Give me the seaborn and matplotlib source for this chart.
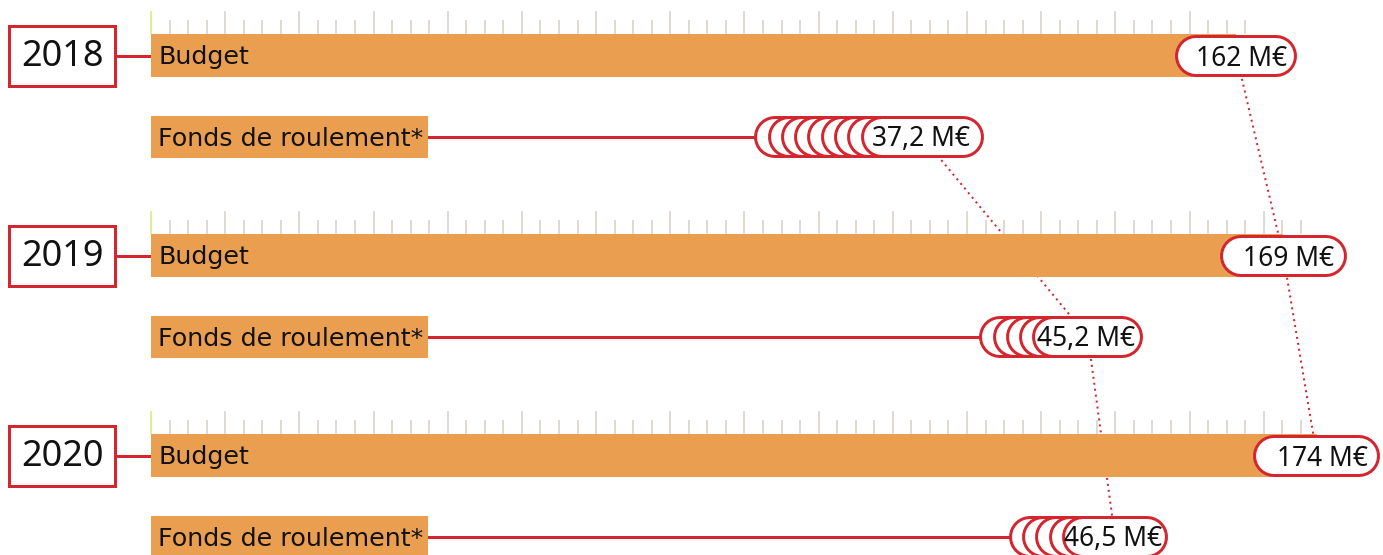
import numpy as np
import pandas as pd
import matplotlib
matplotlib.use("Agg")
import matplotlib.pyplot as plt
import matplotlib.transforms as mtransforms
from matplotlib.patches import Rectangle
import seaborn as sns

# ---------------- data ----------------
years = ["2018", "2019", "2020"]
budget = [162, 169, 174]                 # M€
fonds = [37.2, 45.2, 46.5]               # M€
budget_labels = ["162 M€", "169 M€", "174 M€"]
fonds_labels = ["37,2 M€", "45,2 M€", "46,5 M€"]
bar_label = "Budget"
fonds_title = "Fonds de roulement*"

# ---------------- style / layout ----------------
W, H, DPI = 1383, 555, 100
X0 = 151            # pixel column of value 0
KB = 6.70           # px per M€ on the budget scale
KF = 20.73          # px per M€ on the fonds scale
ROW = 200           # px between year groups
ORANGE = "#EA9E50"
RED = "#D3262F"
TICK = "#D8D1C9"
TICK0 = "#DAE57C"
INK = "#111111"
trail = [8, 4, 4]              # ghost pills behind the fonds pill
n_ticks = [60, 63, 63]
tick_px = 18.545
fonds_pill_w = [123, 111, 106]
budget_pill_w = [122, 127, 127]
PILL_H = 42
PT = 72 / DPI                  # px -> pt
LABEL_FONT = ["DejaVu Sans"]
NUM_FONT = ["Noto Sans", "DejaVu Sans"]
LABEL_SIZE = 18.3

sns.set_theme(style="white")
plt.rcParams["font.family"] = ["Noto Sans", "DejaVu Sans"]

fig = plt.figure(figsize=(W / DPI, H / DPI), dpi=DPI)
ax = fig.add_axes([0, 0, 1, 1])

bar_y = [ROW * i + 55.5 for i in range(len(years))]
fonds_y = [ROW * i + 137 for i in range(len(years))]

df = pd.DataFrame({"year": years, "budget": budget, "y": bar_y})
sns.barplot(data=df, x="budget", y="y", orient="h", native_scale=True,
            width=43 / ROW, color=ORANGE, saturation=1, linewidth=0,
            errorbar=None, ax=ax, zorder=2)

ax.set_xlim(-X0 / KB, (W - X0) / KB)
ax.set_ylim(H, 0)
ax.axis("off")

t_b = ax.transData
t_f = mtransforms.Affine2D().scale(KF / KB, 1) + ax.transData
t_px = mtransforms.Affine2D().translate(-X0, 0).scale(1 / KB, 1) + ax.transData


def pill(cx, y, w_px, k, transform, z):
    h = (w_px - PILL_H) / 2 / k
    ax.plot([cx - h, cx + h], [y, y], color=RED, lw=PILL_H * PT,
            solid_capstyle="round", transform=transform, zorder=z)
    ax.plot([cx - h, cx + h], [y, y], color="white", lw=(PILL_H - 6) * PT,
            solid_capstyle="round", transform=transform, zorder=z + 0.05)


# dotted connectors between years
ax.plot(budget, bar_y, transform=t_b, color=RED, lw=2 * PT,
        ls=(0, (1, 2)), zorder=1)
ax.plot(fonds, fonds_y, transform=t_f, color=RED, lw=2 * PT,
        ls=(0, (1, 2)), zorder=1)

renderer = fig.canvas.get_renderer()

for i, yr in enumerate(years):
    base = ROW * i
    # ticks
    xs = X0 + np.arange(n_ticks[i]) * tick_px
    major = np.arange(n_ticks[i]) % 4 == 0
    ax.vlines(xs[~major], base + 20, base + 33.5, color=TICK, lw=1.6 * PT,
              transform=t_px, zorder=2)
    ax.vlines(xs[major][1:], base + 11, base + 33.5, color=TICK, lw=1.6 * PT,
              transform=t_px, zorder=2)
    ax.vlines(xs[:1], base + 11, base + 33.5, color=TICK0, lw=1.6 * PT,
              transform=t_px, zorder=2)

    # year box + connector
    ax.add_patch(Rectangle((9.5, base + 25.5), 106, 60, transform=t_px,
                           facecolor="white", edgecolor=RED, lw=3 * PT,
                           zorder=3))
    ax.plot([117, X0], [bar_y[i], bar_y[i]], transform=t_px, color=RED,
            lw=3 * PT, zorder=1.5)
    ax.text(62.5, base + 66, yr, transform=t_px, fontsize=26, ha="center",
            va="baseline", color=INK, family=NUM_FONT, zorder=10)

    # budget label
    ax.text(159, base + 64, bar_label, transform=t_px, fontsize=LABEL_SIZE,
            ha="left", va="baseline", color=INK, family=LABEL_FONT, zorder=10)

    # fonds label box
    txt = ax.text(158, base + 146, fonds_title, transform=t_px,
                  fontsize=LABEL_SIZE, ha="left", va="baseline", color=INK,
                  family=LABEL_FONT, zorder=10)
    bb = txt.get_window_extent(renderer)
    ax.add_patch(Rectangle((X0, base + 116), bb.x1 + 5 - X0, 42,
                           transform=t_px, facecolor=ORANGE, lw=0, zorder=2))

    # fonds red line
    ax.plot([20 / KF, fonds[i]], [fonds_y[i], fonds_y[i]], transform=t_f,
            color=RED, lw=3 * PT, zorder=1.5)

    # ghost + front fonds pills
    z = 3.0
    for g in range(trail[i], 0, -1):
        pill(fonds[i] - g * 13.3 / KF, fonds_y[i], fonds_pill_w[i], KF, t_f, z)
        z += 0.1
    pill(fonds[i], fonds_y[i], fonds_pill_w[i], KF, t_f, z)
    ax.text(fonds[i], base + 146, fonds_labels[i],
            transform=mtransforms.offset_copy(t_f, fig, x=-1.5, units="dots"),
            fontsize=19, ha="center", va="baseline", color=INK,
            family=NUM_FONT, zorder=10)

    # budget pill
    pill(budget[i], bar_y[i], budget_pill_w[i], KB, t_b, 5)
    ax.text(budget[i], base + 66, budget_labels[i],
            transform=mtransforms.offset_copy(t_b, fig, x=5.5, units="dots"),
            fontsize=19, ha="center", va="baseline", color=INK,
            family=NUM_FONT, zorder=10)

ax.set_xlim(-X0 / KB, (W - X0) / KB)
ax.set_ylim(H, 0)
fig.savefig("out.png", dpi=DPI)
